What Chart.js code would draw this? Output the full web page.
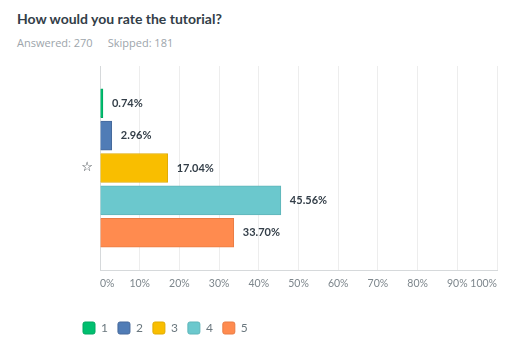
<!DOCTYPE html>
<html>
<head>
<meta charset="utf-8">
<title>How would you rate the tutorial?</title>
<script src="https://cdn.jsdelivr.net/npm/chart.js@4.4.1/dist/chart.umd.min.js"></script>
<style>
  html, body { margin: 0; padding: 0; background: #fff; }
  body { width: 520px; height: 353px; position: relative; overflow: hidden; font-family: "Open Sans", sans-serif; }
  .q-title { position: absolute; left: 17px; top: 10px; font-family: Lato, sans-serif; font-size: 14px; font-weight: 700; color: #333e48; }
  .q-meta { position: absolute; left: 17px; top: 35px; font-size: 11px; color: #9da5ab; }
  .q-meta span + span { margin-left: 15px; }
  .chart-wrap { position: absolute; left: 0; top: 0; width: 520px; height: 353px; }
</style>
</head>
<body>
<div class="q-title">How would you rate the tutorial?</div>
<div class="q-meta"><span>Answered: 270</span><span>Skipped: 181</span></div>
<div class="chart-wrap"><canvas id="ratingChart"></canvas></div>

<script>
// answer choices and share of respondents (%)
const categories = ["1", "2", "3", "4", "5"];
const percents = [0.74, 2.96, 17.04, 45.56, 33.70];
const markedChoice = "3";

const xTickMin = 0;
const xTickMax = 100;
const xTickStep = 10;

const barColors = ["#00bf6f", "#507cb6", "#f9be00", "#6bc8cd", "#ff8b4f"];
const barBorders = ["#00a862", "#46699b", "#e0ab00", "#5fb5b9", "#e97c45"];

// write the percentage just past the end of each bar
const valueLabels = {
  id: "valueLabels",
  afterDatasetsDraw(chart) {
    const { ctx } = chart;
    const meta = chart.getDatasetMeta(0);
    ctx.save();
    ctx.font = "700 11px Lato, sans-serif";
    ctx.fillStyle = "#333e48";
    ctx.textBaseline = "middle";
    ctx.textAlign = "left";
    meta.data.forEach((bar, i) => {
      ctx.fillText(percents[i].toFixed(2) + "%", bar.x + 9, bar.y);
    });
    ctx.restore();
  },
};

const chartInit = () => {
  const ctx = document.getElementById("ratingChart");

  new Chart(ctx, {
    type: "bar",
    data: {
      labels: categories,
      datasets: [
        {
          label: "Rating",
          data: percents.map((v, i) => ({ x: v, y: i })),
          backgroundColor: barColors,
          borderColor: barBorders,
          borderWidth: 1,
          barThickness: 29,
        },
      ],
    },
    plugins: [valueLabels],
    options: {
      indexAxis: "y",
      responsive: true,
      maintainAspectRatio: false,
      animation: false,
      layout: {
        padding: { left: 73, right: 23, top: 66, bottom: 9 },
      },
      plugins: {
        tooltip: { enabled: false },
        legend: {
          position: "bottom",
          align: "start",
          labels: {
            boxWidth: 12,
            boxHeight: 12,
            padding: 10,
            color: "#6b787f",
            font: { size: 12, family: "Lato, sans-serif" },
            useBorderRadius: true,
            borderRadius: 2,
            generateLabels: () =>
              categories.map((c, i) => ({
                text: c,
                fillStyle: barColors[i],
                strokeStyle: barBorders[i],
                lineWidth: 1,
                fontColor: "#6b787f",
                borderRadius: 2,
                index: i,
              })),
          },
        },
      },
      scales: {
        x: {
          type: "linear",
          min: xTickMin,
          max: xTickMax,
          afterFit: (scale) => { scale.height = 42; },
          ticks: {
            stepSize: xTickStep,
            align: "inner",
            padding: 7,
            color: "#7d868c",
            font: { size: 10.5, family: "Lato, sans-serif" },
            callback: (v) => v + "%",
          },
          grid: { color: "#ededed", drawTicks: false },
          border: { display: true, color: "#d6d9db" },
        },
        y: {
          type: "linear",
          reverse: true,
          offset: false,
          min: -1.15,
          max: categories.length - 1 + 1.15,
          afterFit: (scale) => { scale.width = 27; },
          afterBuildTicks: (scale) => {
            scale.ticks = categories.map((c, i) => ({ value: i }));
          },
          ticks: {
            autoSkip: false,
            padding: 7,
            color: "#2b333a",
            font: { size: 13, family: "'DejaVu Sans', sans-serif" },
            callback: (v) => (categories[v] === markedChoice ? "\u2606" : ""),
          },
          grid: { display: false, drawTicks: false },
          border: { display: true, color: "#d6d9db" },
        },
      },
    },
  });
};

document.addEventListener("DOMContentLoaded", chartInit);
</script>
</body>
</html>
